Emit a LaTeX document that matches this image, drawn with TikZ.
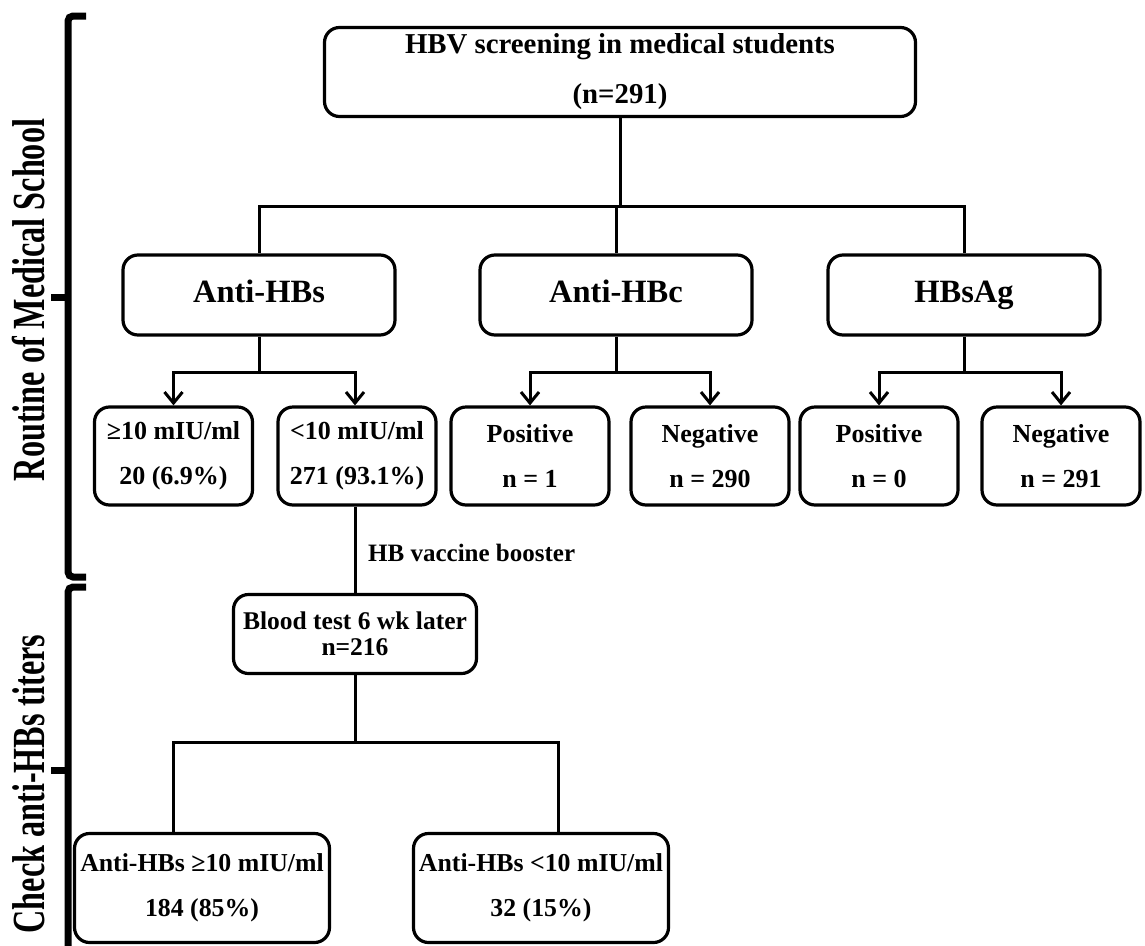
\documentclass[tikz,border=0pt]{standalone}
\usepackage{fontspec}
\setmainfont{Liberation Serif}
\usetikzlibrary{arrows.meta}
\newcommand{\fsz}[2]{\fontsize{#1}{#2}\selectfont\bfseries}
\begin{document}
\begin{tikzpicture}[x=1pt,y=-1pt,
  box/.style={draw, line width=3.2pt, rounded corners=15pt, inner sep=0pt, align=center},
  topbox/.style={box, minimum width=591pt, minimum height=89pt, font=\fsz{28.8}{50}},
  midbox/.style={box, minimum width=272pt, minimum height=80pt, text height=22pt, text depth=7pt, font=\fsz{32.5}{36}},
  smallbox/.style={box, minimum width=158pt, minimum height=98pt, font=\fsz{26}{45}},
  bloodbox/.style={box, minimum width=243pt, minimum height=79pt, font=\fsz{25.5}{26}},
  botbox/.style={box, minimum width=255pt, minimum height=109pt, font=\fsz{25.8}{45}},
  lbl/.style={inner sep=0pt, font=\fsz{25}{26}},
  sidelbl/.style={inner sep=0pt, rotate=90, font=\fsz{46}{46}},
  conn/.style={line width=3pt},
  arr/.style={conn, -{Straight Barb[length=11pt,width=18pt,line width=3pt]}},
  brace/.style={line width=7pt, rounded corners=5pt}
]
\useasboundingbox (0,0) rectangle (1145,945);

% side braces and labels
\draw[brace] (86,16) -- (68,16) -- (68,577) -- (86,577);
\draw[brace] (68,297) -- (51,297);
\draw[brace] (86,587) -- (68,587) -- (68,960);
\draw[brace] (68,770) -- (51,770);
\node[sidelbl] (routine) at (29,300) {\scalebox{0.7}[1]{Routine of Medical School}};
\node[sidelbl] (check) at (29,784) {\scalebox{0.7}[1]{Check anti-HBs titers}};

% nodes
\node[topbox] (top) at (620,72) {HBV screening in medical students\\(n=291)};
\node[midbox] (antihbs) at (259,295) {Anti-HBs};
\node[midbox] (antihbc) at (616,295) {Anti-HBc};
\node[midbox] (hbsag) at (964,295) {HBsAg};

\node[smallbox] (ge10) at (173.5,456) {≥10 mIU/ml\\20 (6.9\%)};
\node[smallbox] (lt10) at (357,456) {<10 mIU/ml\\271 (93.1\%)};
\node[smallbox] (posc) at (530,456) {Positive\\n = 1};
\node[smallbox] (negc) at (710,456) {Negative\\n = 290};
\node[smallbox] (poss) at (879,456) {Positive\\n = 0};
\node[smallbox] (negs) at (1061,456) {Negative\\n = 291};

\node[lbl, anchor=west] (vac) at (368,553) {HB vaccine booster};
\node[bloodbox] (blood) at (355,634) {Blood test 6 wk later\\n=216};

\node[botbox] (b1) at (202,888) {Anti-HBs ≥10 mIU/ml\\184 (85\%)};
\node[botbox] (b2) at (541,888) {Anti-HBs <10 mIU/ml\\32 (15\%)};

% connectors level 1
\coordinate (h0) at (620,206);
\draw[conn] (top.south) -- (h0);
\draw[conn] (antihbs.north) -- (antihbs.north |- h0) -- (hbsag.north |- h0) -- (hbsag.north);
\draw[conn] (antihbc.north) -- (antihbc.north |- h0);

% connectors level 2
\coordinate (j1) at (259,372);
\coordinate (j2) at (616,372);
\coordinate (j3) at (964,372);
\draw[conn] (antihbs.south) -- (j1);
\draw[conn] (antihbc.south) -- (j2);
\draw[conn] (hbsag.south) -- (j3);
\draw[arr] (j1) -| (ge10.north);
\draw[arr] (j1) -| ([xshift=-2pt]lt10.north);
\draw[arr] (j2) -| (posc.north);
\draw[arr] (j2) -| (negc.north);
\draw[arr] (j3) -| (poss.north);
\draw[arr] (j3) -| (negs.north);

% booster
\draw[conn] ([xshift=-2pt]lt10.south) -- (blood.north);

% bottom
\coordinate (j4) at (355,742);
\coordinate (k1) at (173,742);
\coordinate (k2) at (558,742);
\draw[conn] (blood.south) -- (j4);
\draw[conn] (k1 |- b1.north) -- (k1) -- (k2) -- (k2 |- b2.north);
\end{tikzpicture}
\end{document}
